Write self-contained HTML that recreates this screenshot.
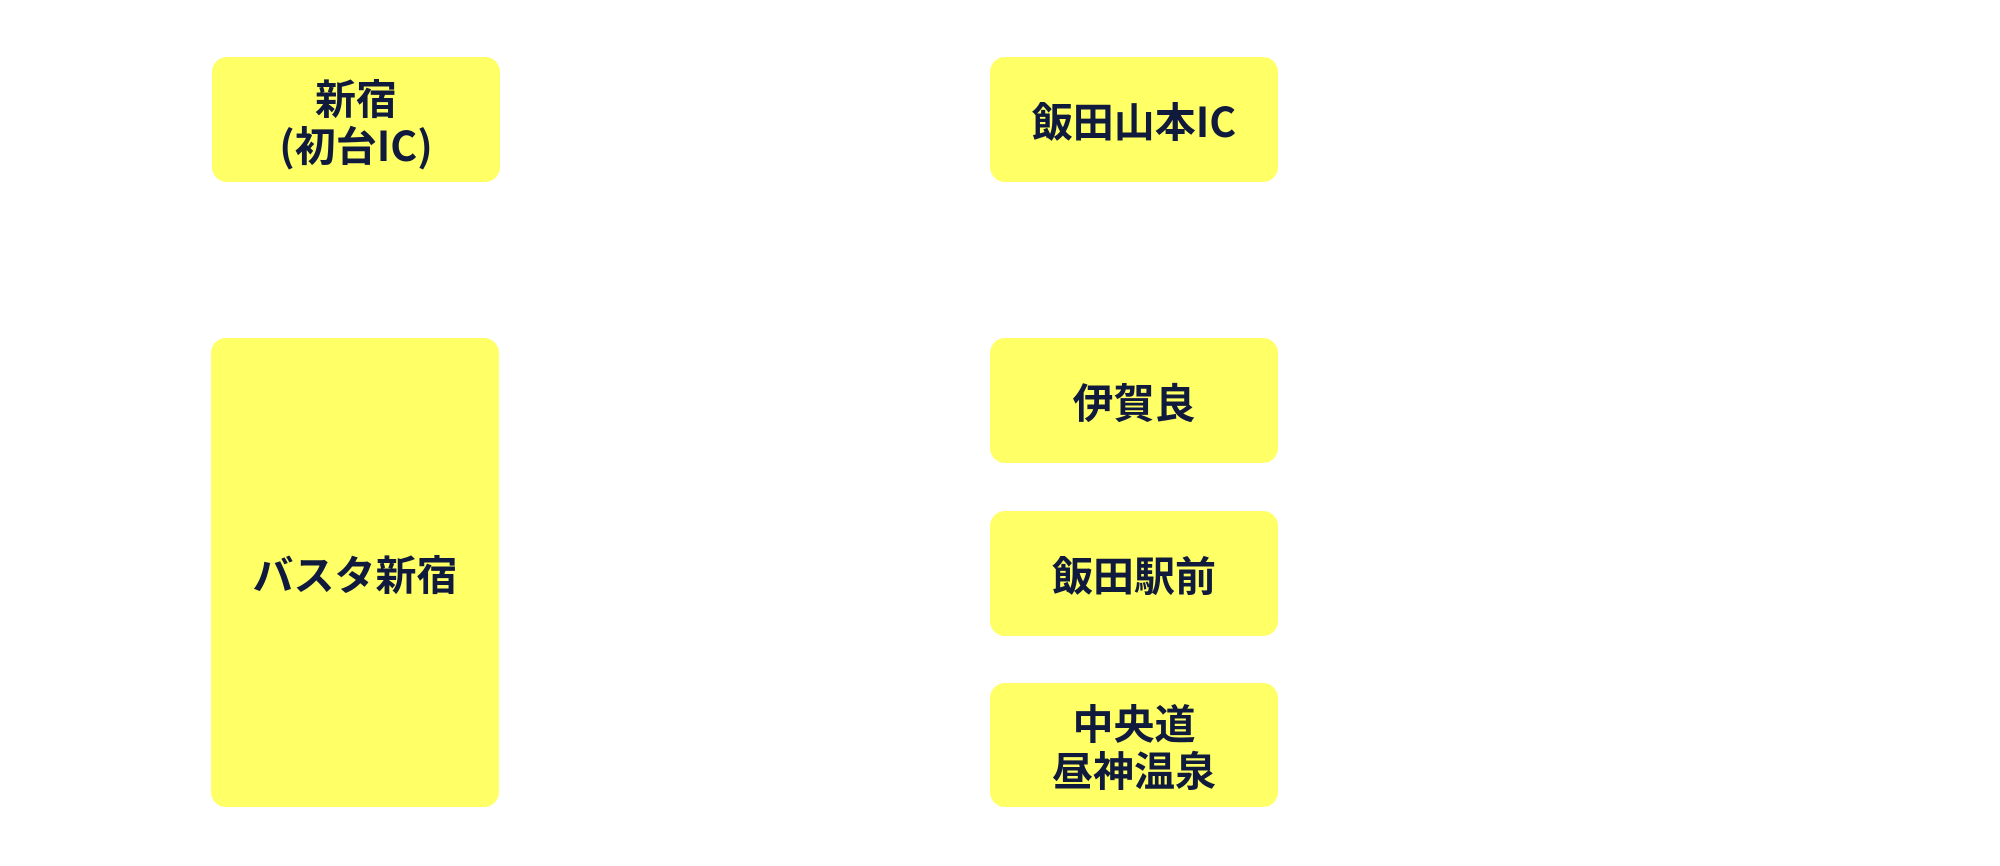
<!DOCTYPE html>
<html><head><meta charset="utf-8"><style>
html,body{margin:0;padding:0;background:#fff;}
body{width:2000px;height:866px;position:relative;overflow:hidden;}
.b{position:absolute;background:#ffff66;border-radius:15px;display:flex;align-items:center;justify-content:center;text-align:center;
font-family:"Noto Sans CJK JP","Liberation Sans",sans-serif;font-weight:bold;font-size:41px;line-height:47px;color:#0f1a3c;}
</style></head><body>
<div class="b" style="left:212px;top:57px;width:288px;height:125px;">新宿<br>(初台IC)</div>
<div class="b" style="left:990px;top:57px;width:288px;height:125px;">飯田山本IC</div>
<div class="b" style="left:211px;top:338px;width:288px;height:469px;">バスタ新宿</div>
<div class="b" style="left:990px;top:338px;width:288px;height:125px;">伊賀良</div>
<div class="b" style="left:990px;top:511px;width:288px;height:125px;">飯田駅前</div>
<div class="b" style="left:990px;top:683px;width:288px;height:124px;">中央道<br>昼神温泉</div>
</body></html>
